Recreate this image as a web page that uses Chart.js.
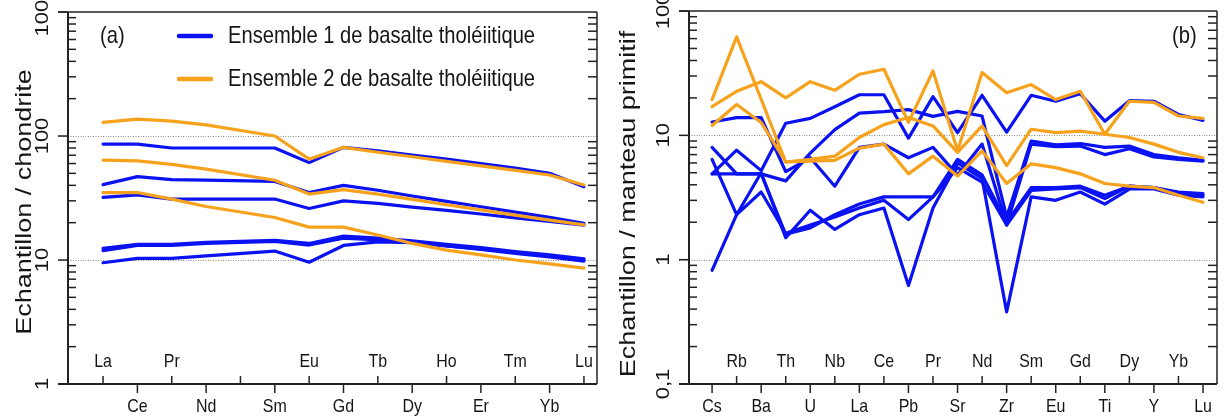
<!DOCTYPE html>
<html>
<head>
<meta charset="utf-8">
<script src="https://cdn.jsdelivr.net/npm/chart.js@4.4.0/dist/chart.umd.min.js"></script>
<style>
  html, body { margin: 0; padding: 0; background: #fff; }
  #wrap { position: relative; width: 1225px; height: 418px; overflow: hidden; }
  #chartA { position: absolute; left: 0; top: 0; }
  #chartB { position: absolute; left: 612px; top: 0; }
</style>
</head>
<body>
<div id="wrap">
  <canvas id="chartA" width="612" height="418"></canvas>
  <canvas id="chartB" width="613" height="418"></canvas>
</div>
<script>
// --- Data: (a) REE normalised to chondrite ---
const reeLabels = ['La', 'Ce', 'Pr', 'Nd', '', 'Sm', 'Eu', 'Gd', 'Tb', 'Dy', 'Ho', 'Er', 'Tm', 'Yb', 'Lu']; // '' = Pm (no data)
const reeTicks = [1, 10, 100, 1000];
const reeTickLabels = ['1', '10', '100', '1000'];

// Ensemble 1 (blue)
const reeB1 = [86, 86, 80, 80, null, 80, 61, 81, 76, 70, 65, 60, 55, 50, 39];
const reeB2 = [40.5, 47, 44.5, 44, null, 43, 35, 40, 36.5, 32.8, 29.7, 26.9, 24.3, 22.1, 19.8];
const reeB3 = [32, 33.5, 31, 31, null, 31, 26, 30, 28.6, 26.7, 25.1, 23.5, 21.9, 20.5, 19.1];
const reeB4 = [12.4, 13.4, 13.4, 13.9, null, 14.4, 13.6, 15.6, 15, 14.3, 13.4, 12.6, 11.7, 11, 10.2];
const reeB5 = [11.9, 13.1, 13.1, 13.6, null, 14.1, 13.2, 15, 14.5, 13.9, 13, 12.2, 11.3, 10.6, 9.8];
const reeB6 = [9.5, 10.3, 10.3, 10.8, null, 11.8, 9.6, 13.1, 14, 13.8, 13, 12.3, 11.5, 10.8, 10.1];
// Ensemble 2 (orange)
const reeO1 = [129, 137, 132, 123, null, 100, 65, 81, 74, 68, 62.5, 57.5, 52.8, 48.5, 40.3];
const reeO2 = [64, 63, 59, 54, null, 44, 34, 37, 34, 30.8, 27.9, 25.4, 23, 21, 19.2];
const reeO3 = [35, 35, 31, 27, null, 22, 18.4, 18.4, 15.9, 13.6, 12, 11, 10, 9.3, 8.6];

// --- Data: (b) multi-element normalised to primitive mantle ---
const spiderLabels = ['Cs', 'Rb', 'Ba', 'Th', 'U', 'Nb', 'La', 'Ce', 'Pb', 'Pr', 'Sr', 'Nd', 'Zr', 'Sm', 'Eu', 'Gd', 'Ti', 'Dy', 'Y', 'Yb', 'Lu'];
const spiderTicks = [0.1, 1, 10, 100];
const spiderTickLabels = ['0,1', '1', '10', '100'];

const spB1 = [12.8, 13.9, 13.9, 5.1, 6.6, 3.9, 8.0, 8.5, 6.6, 8.0, 4.8, 8.5, 1.9, 8.5, 8.1, 8.2, 7.0, 7.8, 6.7, 6.4, 6.2];
const spB2 = [4.9, 7.6, 5.2, 12.5, 13.7, 17, 21.2, 21.2, 9.5, 20.5, 10.5, 21, 10.6, 21, 18.8, 21.6, 13, 19, 18.8, 14.7, 13.2];
const spB3 = [8.0, 4.9, 4.9, 4.3, 7.2, 11.1, 15.1, 15.5, 16.1, 14.2, 15.6, 14.3, 2.2, 9.0, 8.4, 8.6, 8.0, 8.2, 7.0, 6.6, 6.3];
const spB4 = [6.4, 2.3, 5.0, 1.5, 2.5, 1.75, 2.3, 2.6, 0.62, 2.6, 6.0, 4.5, 0.38, 3.2, 3.0, 3.5, 2.8, 3.7, 3.7, 3.3, 3.2];
const spB5 = [0.82, 2.3, 3.5, 1.63, 1.9, 2.2, 2.6, 3.0, 2.1, 3.2, 6.4, 4.8, 2.0, 3.8, 3.8, 3.9, 3.3, 3.9, 3.8, 3.5, 3.4];
const spB6 = [4.9, 4.9, 4.9, 1.6, 1.8, 2.3, 2.8, 3.2, 3.2, 3.2, 5.5, 4.2, 1.9, 3.6, 3.7, 3.8, 3.1, 3.9, 3.8, 3.4, 3.3];
const spO1 = [17, 22.6, 27, 20, 27, 23, 31, 34, 12.7, 33, 7.5, 32, 22, 25.6, 19.4, 22.6, 10.2, 18.8, 18.4, 14.3, 13.7];
const spO2 = [19.4, 62, 19.5, 6.1, 6.4, 6.8, 9.6, 12.2, 13.9, 11.9, 7.3, 11.9, 5.7, 11.2, 10.5, 10.8, 10.2, 9.6, 8.5, 7.3, 6.6];
const spO3 = [12, 17.7, 12.7, 6.1, 6.2, 6.3, 7.9, 8.5, 4.9, 6.8, 4.7, 7.5, 4.1, 5.9, 5.5, 4.9, 4.1, 3.9, 3.8, 3.3, 2.9];

const legendLabels = ['Ensemble 1 de basalte tholéiitique', 'Ensemble 2 de basalte tholéiitique'];
const BLUE = '#0a12f2';
const ORANGE = '#f6a21c';

// --- Helpers ---
const SQ = 0.84; // the figure's lettering is horizontally squeezed
const FONT = '"Liberation Sans", Arial, Helvetica, sans-serif';

function drawText(ctx, s, x, y, size, align, vertical) {
    ctx.save();
    ctx.translate(x, y);
    if (vertical) {
        ctx.rotate(-Math.PI / 2);
        ctx.scale(1, SQ);
    } else {
        ctx.scale(SQ, 1);
    }
    ctx.font = size + 'px ' + FONT;
    ctx.textAlign = align || 'center';
    ctx.textBaseline = 'middle';
    ctx.fillStyle = '#151515';
    ctx.fillText(s, 0, 0);
    ctx.restore();
}

function line(ctx, x1, y1, x2, y2) {
    ctx.beginPath();
    ctx.moveTo(x1, y1);
    ctx.lineTo(x2, y2);
    ctx.stroke();
}

function series(values, color) {
    return {
        data: values.map((v, i) => ({ x: i, y: v })),
        borderColor: color,
        borderWidth: 3.2,
        pointRadius: 0,
        tension: 0,
        spanGaps: true,
        borderCapStyle: 'round',
        borderJoinStyle: 'round',
        fill: false
    };
}

// --- Frame plugin: axes, log ticks, alternating element labels, legend ---
const framePlugin = {
    id: 'frame',
    beforeDatasetsDraw(chart, args, opts) {
        const ctx = chart.ctx;
        const a = chart.chartArea;
        const y = chart.scales.y;
        ctx.save();
        ctx.strokeStyle = '#8a8a8a';
        ctx.lineWidth = 1;
        ctx.setLineDash([1, 1.5]);
        opts.ticks.forEach(t => {
            if (t === opts.ticks[0] || t === opts.ticks[opts.ticks.length - 1]) return;
            const py = Math.round(y.getPixelForValue(t)) + 0.5;
            line(ctx, a.left - 10, py, a.right, py);
        });
        ctx.restore();
    },
    afterDatasetsDraw(chart, args, opts) {
        const ctx = chart.ctx;
        const a = chart.chartArea;
        const x = chart.scales.x;
        const y = chart.scales.y;
        ctx.save();
        ctx.strokeStyle = '#222';

        // frame
        ctx.lineWidth = 1.5;
        line(ctx, a.left - 10, a.top, a.right, a.top);
        line(ctx, a.right, a.top, a.right, a.bottom);
        ctx.lineWidth = 2;
        line(ctx, a.left, a.top, a.left, a.bottom);
        line(ctx, a.left - 10, a.bottom, a.right, a.bottom);

        // log ticks
        ctx.lineWidth = 1.5;
        const tks = opts.ticks;
        tks.forEach((t, i) => {
            const py = y.getPixelForValue(t);
            line(ctx, a.left - 10, py, a.left, py);
            drawText(ctx, opts.tickLabels[i], a.left - 25, py, 22, 'center', true);
            if (i < tks.length - 1) {
                for (let k = 2; k <= 9; k++) {
                    const my = y.getPixelForValue(t * k);
                    line(ctx, a.left, my, a.left + 8, my);
                    line(ctx, a.right - 9, my, a.right, my);
                }
            }
        });

        // element ticks and labels, alternating above / below the axis
        opts.labels.forEach((lab, i) => {
            const px = x.getPixelForValue(i);
            const up = (i % 2) === opts.upParity;
            if (up) {
                line(ctx, px, a.bottom - 8, px, a.bottom);
                if (lab) drawText(ctx, lab, px, a.bottom - 22, 19, 'center');
            } else {
                line(ctx, px, a.bottom, px, a.bottom + 9);
                if (lab) drawText(ctx, lab, px, a.bottom + 23, 19, 'center');
            }
        });

        // y title
        drawText(ctx, opts.title, opts.titleX, opts.titleY, 27, 'center', true);
        // panel tag
        drawText(ctx, opts.tag, opts.tagX, 36, 24, 'left');

        // legend
        if (opts.legend) {
            [BLUE, ORANGE].forEach((c, i) => {
                const ly = 36 + i * 43;
                ctx.strokeStyle = c;
                ctx.lineWidth = 4.5;
                ctx.lineCap = 'round';
                line(ctx, 179, ly, 211, ly);
                drawText(ctx, legendLabels[i], 228, ly, 24, 'left');
            });
        }
        ctx.restore();
    }
};

function makeChart(id, datasets, xmin, xmax, ymin, ymax, padding, frameOpts) {
    return new Chart(document.getElementById(id), {
        type: 'line',
        data: { datasets: datasets },
        options: {
            responsive: false,
            animation: false,
            events: [],
            layout: { padding: padding },
            scales: {
                x: { type: 'linear', min: xmin, max: xmax, display: false },
                y: { type: 'logarithmic', min: ymin, max: ymax, display: false }
            },
            plugins: {
                legend: { display: false },
                tooltip: { enabled: false },
                frame: frameOpts
            }
        },
        plugins: [framePlugin]
    });
}

// orange listed first so it is painted on top
const datasetsA = [reeO1, reeO2, reeO3].map(v => series(v, ORANGE))
    .concat([reeB1, reeB2, reeB3, reeB4, reeB5, reeB6].map(v => series(v, BLUE)));
const datasetsB = [spO1, spO2, spO3].map(v => series(v, ORANGE))
    .concat([spB1, spB2, spB3, spB4, spB5, spB6].map(v => series(v, BLUE)));

makeChart('chartA', datasetsA, -1.02, 14.38, 1, 1000,
    { left: 68, right: 15, top: 12, bottom: 34 },
    {
        labels: reeLabels, upParity: 0, ticks: reeTicks, tickLabels: reeTickLabels,
        title: 'Echantillon / chondrite', titleX: 25, titleY: 202,
        tag: '(a)', tagX: 100, legend: true
    });

makeChart('chartB', datasetsB, -0.94, 20.57, 0.1, 100,
    { left: 77, right: 8, top: 11, bottom: 34 },
    {
        labels: spiderLabels, upParity: 1, ticks: spiderTicks, tickLabels: spiderTickLabels,
        title: 'Echantillon / manteau primitif', titleX: 17, titleY: 204,
        tag: '(b)', tagX: 560, legend: false
    });
</script>
</body>
</html>
